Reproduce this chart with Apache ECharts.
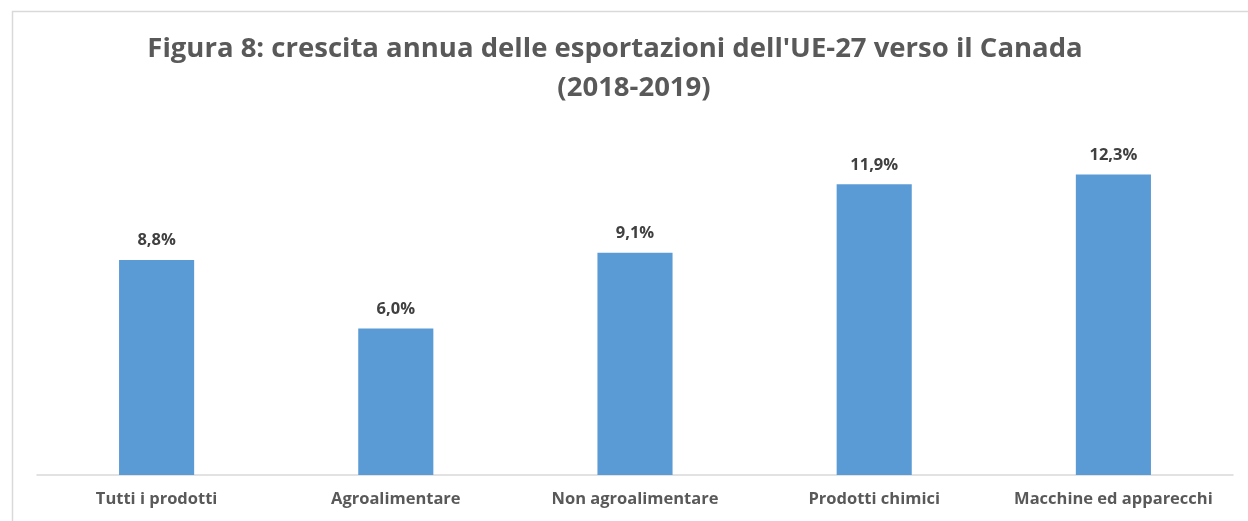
<!DOCTYPE html>
<html><head><meta charset="utf-8">
<script src="https://cdn.jsdelivr.net/npm/echarts@6/dist/echarts.min.js"></script>
<style>html,body{margin:0;padding:0;background:#fff}#c{width:1248px;height:521px}</style>
</head><body><div id="c"></div>
<script>
const categories = ["Tutti i prodotti","Agroalimentare","Non agroalimentare","Prodotti chimici","Macchine ed apparecchi"];
const values = [8.8, 6.0, 9.1, 11.9, 12.3];
const titleLine1 = "Figura 8: crescita annua delle esportazioni dell'UE-27 verso il Canada";
const titleLine2 = "(2018-2019)";
const FONT = "Open Sans";
const tStyle = {fontFamily:FONT,fontWeight:'bold',fontSize:27.5,color:'#595959'};
const chart = echarts.init(document.getElementById('c'));
chart.setOption({
  animation:false,
  graphic:[{type:'rect',shape:{x:12.5,y:11.5,width:1300,height:600},style:{fill:'none',stroke:'#d9d9d9',lineWidth:1.5},silent:true}],
  title:[
    {text:titleLine1,left:610,textAlign:'center',top:30,textStyle:tStyle},
    {text:titleLine2,left:629,textAlign:'center',top:69,textStyle:tStyle}
  ],
  grid:{left:37,right:15,top:133,bottom:46,containLabel:false},
  xAxis:{type:'category',data:categories,axisTick:{show:false},
    axisLine:{lineStyle:{color:'#d9d9d9',width:1.5}},
    axisLabel:{fontFamily:FONT,fontWeight:'bold',fontSize:16.5,color:'#595959',margin:16,interval:0}},
  yAxis:{type:'value',min:0,max:14,show:false,splitLine:{show:false}},
  series:[{type:'bar',data:values,barWidth:'31.4%',itemStyle:{color:'#5b9bd5'},
    label:{show:true,position:'top',distance:11,fontFamily:FONT,fontWeight:'bold',fontSize:16.5,color:'#404040',
      formatter:p=>p.value.toFixed(1).replace('.',',')+'%'}}]
});
</script></body></html>
